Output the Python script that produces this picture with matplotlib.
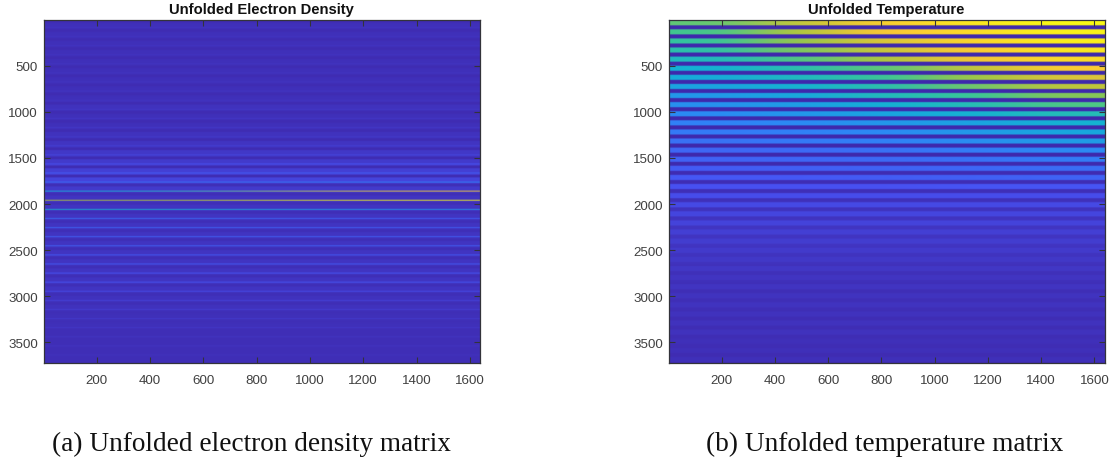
import numpy as np
import matplotlib
matplotlib.use("Agg")
import matplotlib.pyplot as plt
from matplotlib.colors import LinearSegmentedColormap

W, H = 1112, 464
PARULA = [(0.2422, 0.1504, 0.6603), (0.2810, 0.3228, 0.9579), (0.1786, 0.5289, 0.9682),
          (0.0689, 0.6948, 0.8394), (0.2161, 0.7843, 0.5923), (0.6720, 0.7793, 0.2227),
          (0.9970, 0.7659, 0.2199), (0.9769, 0.9839, 0.0805)]

N_ROWS = 3727
N_COLS = 1638
PERIOD = 98.6
xticks = [200, 400, 600, 800, 1000, 1200, 1400, 1600]
yticks = [500, 1000, 1500, 2000, 2500, 3000, 3500]

# Temperature: bright stripe of each period, at columns 1, 400, 800, 1200, 1630
temp_col1 = [.62, .58, .55, .52, .48, .43, .41, .38, .34, .32, .30, .27, .25, .23, .20, .19, .17, .16, .14,
             .125, .115, .105, .095, .085, .075, .07, .06, .055, .05, .05, .045, .045, .04, .04, .04, .035, .035, .035]
temp_col400 = [.76, .73, .69, .66, .60, .52, .48, .44, .40, .36, .34, .30, .27, .25, .21, .20, .18, .16, .14,
               .125, .115, .105, .095, .085, .075, .07, .06, .055, .05, .05, .045, .045, .04, .04, .04, .035, .035, .035]
temp_col800 = [.88, .86, .80, .77, .73, .62, .57, .52, .49, .43, .39, .34, .30, .27, .23, .21, .19, .17, .14,
               .125, .115, .105, .095, .085, .075, .07, .06, .055, .05, .05, .045, .045, .04, .04, .04, .035, .035, .035]
temp_col1200 = [.95, .92, .90, .87, .84, .76, .70, .64, .57, .50, .44, .38, .35, .31, .26, .23, .20, .18, .15,
                .125, .115, .105, .095, .085, .075, .07, .06, .055, .05, .05, .045, .045, .04, .04, .04, .035, .035, .035]
temp_col1630 = [1.0, .98, .97, .95, .92, .88, .80, .75, .67, .60, .50, .44, .40, .36, .30, .26, .22, .19, .15,
                .125, .115, .105, .095, .085, .075, .07, .06, .055, .05, .05, .045, .045, .04, .04, .04, .035, .035, .035]
# Temperature: dark stripe of each period
temp_dark = [.01, .01, .01, .01, .01, .01, .01, .01, .01, .01, .01, .01, .01, .01, .01, .015, .02, .025, .03,
             .035, .04, .045, .05, .05, .05, .045, .04, .035, .035, .03, .03, .03, .025, .025, .025, .025, .02, .02]

# Electron density: wide band of each period
dens_band = [.035, .035, .035, .035, .035, .035, .035, .035, .035, .04, .035, .035, .04, .05, .06, .07, .085, .10, .07,
             .05, .05, .05, .05, .05, .05, .05, .05, .05, .05, .05, .04, .04, .035, .035, .03, .03, .03, .03]
# Electron density: thin line of each period, at the left and right edge
dens_line_left = [.05, .05, .05, .05, .05, .05, .05, .05, .05, .06, .06, .06, .06, .08, .10, .13, .17, .22,
                  .42, .72, .45, .22, .20, .19, .19, .17, .17, .15, .15, .12, .09, .08, .07, .06, .05, .05, .04, .04]
dens_line_right = [.05, .05, .05, .05, .05, .05, .05, .05, .05, .06, .06, .06, .06, .08, .10, .15, .18, .28,
                   .88, 1.0, .34, .18, .18, .18, .18, .17, .17, .16, .16, .12, .09, .08, .07, .06, .05, .05, .04, .04]
dens_dark = [.022] * 18 + [.03] * 20

xlabel_a = "(a) Unfolded electron density matrix"
xlabel_b = "(b) Unfolded temperature matrix"
title_a = "Unfolded Electron Density"
title_b = "Unfolded Temperature"

cmap = LinearSegmentedColormap.from_list("parula", PARULA)

# Temperature matrix
T = np.zeros((N_ROWS, 5))
temp_cols = np.array([temp_col1, temp_col400, temp_col800, temp_col1200, temp_col1630]).T
for k in range(38):
    a = int(k * PERIOD)
    T[a:a + 99, :] = temp_dark[k]
    start = 0 if k == 0 else a + 13
    T[start:a + 68, :] = temp_cols[k]

# Density matrix
D = np.zeros((N_ROWS, 2))
for k in range(38):
    a = int(k * PERIOD)
    D[a:a + 99, :] = dens_band[k]
    D[a + 10:a + 40, :] = dens_dark[k]
    D[a + 86:a + 95, 0] = dens_line_left[k]
    D[a + 86:a + 95, 1] = dens_line_right[k]


def panel(rect, M, title, caption, cap_x):
    l, t, r, b = rect
    ax = fig.add_axes([l / W, 1 - b / H, (r - l) / W, (b - t) / H])
    ax.imshow(M, cmap=cmap, vmin=0, vmax=1, aspect="auto",
              extent=(0.5, N_COLS, N_ROWS, 0.5),
              interpolation="gaussian", interpolation_stage="rgba")
    ax.set_xlim(0.5, N_COLS)
    ax.set_ylim(N_ROWS, 0.5)
    ax.set_xticks(xticks)
    ax.set_yticks(yticks)
    ax.tick_params(which="both", direction="in", length=4, width=0.8, color="#33333a",
                   top=True, right=True, labelsize=9.6, labelcolor="#404040")
    ax.tick_params(axis="x", pad=8)
    ax.tick_params(axis="y", pad=4)
    for lab in ax.get_xticklabels() + ax.get_yticklabels():
        lab.set_fontfamily("Liberation Sans")
    for s in ax.spines.values():
        s.set_linewidth(0.9)
        s.set_color("#33333a")
    fig.text((l + r) / 2 / W, 1 - 10 / H, title, ha="center", va="center",
             fontsize=10.6, fontweight="bold", family="Liberation Sans", color="#111111")
    fig.text(cap_x / W, 1 - 444 / H, caption, ha="center", va="center",
             fontsize=19.6, family="Liberation Serif", color="#111111")


fig = plt.figure(figsize=(W / 100, H / 100), dpi=100)
panel((43.5, 20.7, 480, 364.3), D, title_a, xlabel_a, 251)
panel((668.5, 20.7, 1104.5, 364.3), T, title_b, xlabel_b, 885)
fig.savefig("out.png", dpi=100)
